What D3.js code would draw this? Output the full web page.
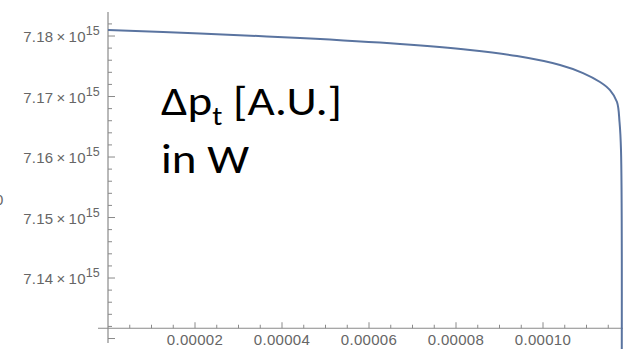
<!DOCTYPE html>
<meta charset="utf-8">
<script src="https://d3js.org/d3.v7.min.js"></script>
<style>
  body { margin: 0; background: #fff; }
  svg { display: block; }
</style>
<body>
<div id="my_dataviz"></div>
<script>
// curve
const xValues = [0, 2.115e-5, 4.414e-5, 6.713e-5, 8.322e-5, 9.402e-5, 1.0391e-4,
                 1.092e-4, 1.131e-4, 1.154e-4, 1.1701e-4, 1.1759e-4, 1.1793e-4, 1.1811e-4];
const yValues = [7.18099e15, 7.18041e15, 7.17967e15, 7.17868e15, 7.17769e15, 7.17669e15, 7.17521e15,
                 7.17388e15, 7.1724e15, 7.17107e15, 7.16909e15, 7.16579e15, 7.16116e15, 7.12826e15];

const xTicks = [0.00002, 0.00004, 0.00006, 0.00008, 0.00010];
const xTickLabels = ["0.00002", "0.00004", "0.00006", "0.00008", "0.00010"];
const yTicks = [7.13e15, 7.14e15, 7.15e15, 7.16e15, 7.17e15, 7.18e15];
const yTickLabels = ["", "7.14", "7.15", "7.16", "7.17", "7.18"];

const width = 623, height = 349;
const axisColor = "#8a8a8a", labelColor = "#666";

const svg = d3.select("#my_dataviz")
  .append("svg")
    .attr("width", width)
    .attr("height", height);

const x = d3.scaleLinear().domain([-2.3e-6, 1.1839e-4]).range([98, 623]);
const y = d3.scaleLinear().domain([7.12926e15, 7.18397e15]).range([343, 12]);
const xAxisAt = 7.1317e15;   // where the horizontal axis crosses

// stray "0" cut off at the left border
svg.append("text")
    .attr("x", -5).attr("y", 205)
    .style("font-family", "Liberation Sans, Arial, sans-serif")
    .style("font-size", "15px")
    .style("fill", labelColor)
    .text("0");

// ---- axes
svg.append("line")
    .attr("x1", 98).attr("x2", width)
    .attr("y1", y(xAxisAt)).attr("y2", y(xAxisAt))
    .attr("stroke", axisColor).attr("stroke-width", 1.2);
svg.append("line")
    .attr("x1", x(0)).attr("x2", x(0))
    .attr("y1", 12).attr("y2", 343)
    .attr("stroke", axisColor).attr("stroke-width", 1.2);

// x ticks (pointing up)
const xMinor = d3.range(0.000005, 0.000118, 0.000005)
  .filter(v => !xTicks.some(t => Math.abs(t - v) < 1e-9));
svg.append("g").selectAll("line")
  .data(xMinor).enter().append("line")
    .attr("x1", d => x(d)).attr("x2", d => x(d))
    .attr("y1", y(xAxisAt)).attr("y2", y(xAxisAt) - 3.5)
    .attr("stroke", axisColor);
svg.append("g").selectAll("line")
  .data(xTicks).enter().append("line")
    .attr("x1", d => x(d)).attr("x2", d => x(d))
    .attr("y1", y(xAxisAt)).attr("y2", y(xAxisAt) - 6)
    .attr("stroke", axisColor);
svg.append("g").selectAll("text")
  .data(xTicks).enter().append("text")
    .attr("x", d => x(d))
    .attr("y", y(xAxisAt) + 17)
    .attr("text-anchor", "middle")
    .style("font-family", "Liberation Sans, Arial, sans-serif")
    .style("font-size", "15px")
    .style("letter-spacing", "0.3px")
    .style("fill", labelColor)
    .text((d, i) => xTickLabels[i]);

// y ticks (pointing right)
const yMinor = d3.range(7.130e15, 7.1840e15, 0.002e15)
  .filter(v => !yTicks.some(t => Math.abs(t - v) < 1e11));
svg.append("g").selectAll("line")
  .data(yMinor).enter().append("line")
    .attr("x1", x(0)).attr("x2", x(0) + 4)
    .attr("y1", d => y(d)).attr("y2", d => y(d))
    .attr("stroke", axisColor);
svg.append("g").selectAll("line")
  .data(yTicks).enter().append("line")
    .attr("x1", x(0)).attr("x2", x(0) + 7)
    .attr("y1", d => y(d)).attr("y2", d => y(d))
    .attr("stroke", axisColor);

const yLab = svg.append("g").selectAll("text")
  .data(yTicks.filter((d, i) => yTickLabels[i] !== "")).enter().append("text")
    .attr("x", x(0) - 8)
    .attr("y", d => y(d) + 6)
    .attr("text-anchor", "end")
    .style("font-family", "Liberation Sans, Arial, sans-serif")
    .style("font-size", "15px")
    .style("letter-spacing", "0.2px")
    .style("fill", labelColor);
yLab.append("tspan")
    .text(d => yTickLabels[yTicks.indexOf(d)] + "\u2009\u00d7\u200910");
yLab.append("tspan")
    .attr("dy", -7)
    .style("font-size", "12.5px")
    .text("15");

// ---- the curve
const pts = xValues.map((v, i) => [v, yValues[i]]);
svg.append("path")
    .datum(pts)
    .attr("fill", "none")
    .attr("stroke", "#5a74a0")
    .attr("stroke-width", 2)
    .attr("d", d3.line()
      .x(d => x(d[0]))
      .y(d => y(d[1]))
      .curve(d3.curveCatmullRom.alpha(0.5)));

// ---- annotation (slightly stretched like the pasted text box)
const ann = svg.append("g")
    .attr("transform", "translate(161,0) scale(1.12,1)")
    .style("font-family", "Carlito, 'Open Sans', Lato, sans-serif")
    .style("fill", "#000");
const l1 = ann.append("text").attr("x", 0).attr("y", 115).style("font-size", "42px");
l1.append("tspan").text("\u0394p");
l1.append("tspan").attr("dy", 10).style("font-size", "27px").text("t");
l1.append("tspan").attr("dy", -10).text(" [A.U.]");
ann.append("text").attr("x", 0).attr("y", 173).style("font-size", "42px").text("in W");
</script>
</body>
